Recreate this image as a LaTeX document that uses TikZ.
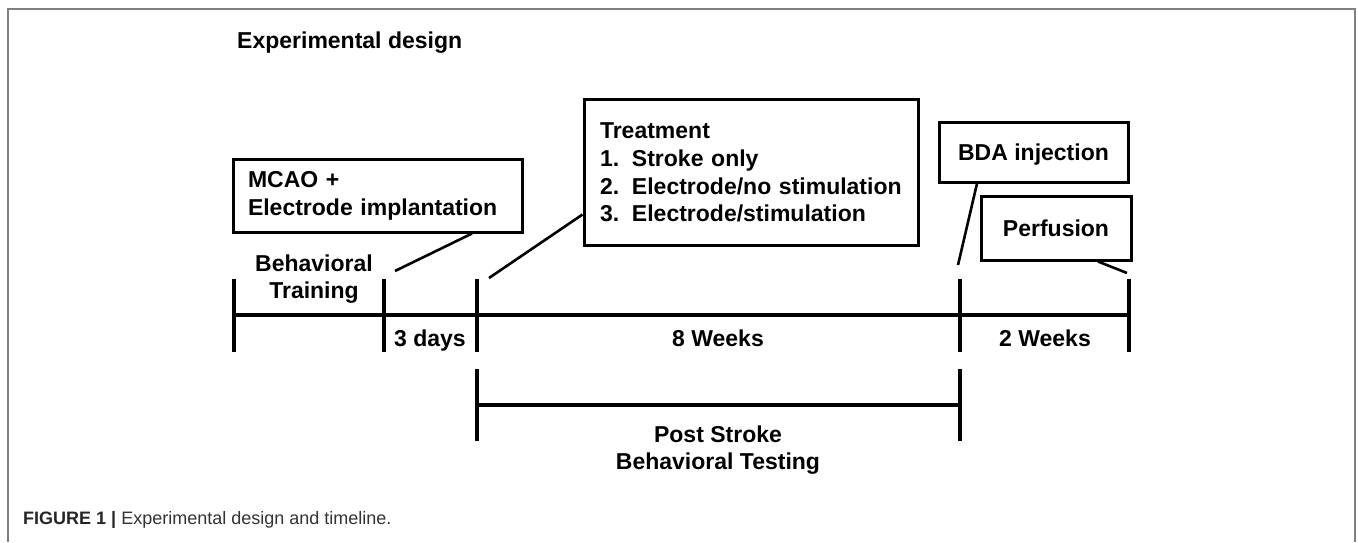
\documentclass[tikz,border=0pt]{standalone}
\usepackage{fontspec}
\setmainfont{Liberation Sans}
\usetikzlibrary{calc}
\definecolor{framegray}{HTML}{808080}
\definecolor{capgray}{HTML}{333333}
\tikzset{
  boxnode/.style={draw, line width=3pt, inner ysep=0pt, font=\bfseries\fontsize{23}{27.7}\selectfont},
  lbl/.style={inner sep=0pt, align=center, font=\bfseries\fontsize{23}{27.7}\selectfont},
  capline/.style={text height=16.5pt, text depth=0pt},
  conn/.style={line width=2.6pt},
  tl/.style={line width=4pt},
}
\begin{document}
\begin{tikzpicture}[x=1pt,y=-1pt]
\useasboundingbox (0,0) rectangle (1358,542);
% frame
\draw[framegray, line width=2pt] (8,542) -- (8,9) -- (1355,9) -- (1355,542);
% title
\node[lbl, capline, anchor=west] (title) at (237,40) {Experimental design};
% timeline
\coordinate (t0) at (234,315);
\coordinate (t1) at (384,315);
\coordinate (t2) at (477,315);
\coordinate (t3) at (960,315);
\coordinate (t4) at (1129,315);
\draw[tl] (t0) -- (t4);
\foreach \p in {t0,t1,t2,t3,t4}{
  \draw[tl] ($(\p)+(0,-36)$) -- ($(\p)+(0,37)$);
}
\node[lbl] (train) at (314,279) {Behavioral\\Training};
\node[lbl, capline] (days) at (430,338) {3 days};
\node[lbl, capline] (eight) at (718,338) {8 Weeks};
\node[lbl, capline] (two) at (1045,338) {2 Weeks};
% post stroke bracket
\coordinate (b0) at (477,405);
\coordinate (b1) at (960,405);
\draw[tl] (b0) -- (b1);
\draw[tl] ($(b0)+(0,-36)$) -- ($(b0)+(0,36)$);
\draw[tl] ($(b1)+(0,-36)$) -- ($(b1)+(0,36)$);
\node[lbl] (post) at (718,450) {Post Stroke\\Behavioral Testing};
% boxes
\node[boxnode, align=left, inner xsep=15pt, text width=259pt, minimum height=73pt] (mcao) at (377.5,195.5) {MCAO +\\Electrode implantation};
\node[boxnode, align=left, inner xsep=16pt, text width=302pt, minimum height=146pt] (treat) at (751,172.5)
  {Treatment\\\makebox[32pt][l]{1.}Stroke only\\\makebox[32pt][l]{2.}Electrode/no stimulation\\\makebox[32pt][l]{3.}Electrode/stimulation};
\node[boxnode, capline, minimum width=189pt, minimum height=60pt] (bda) at (1033.5,152) {BDA injection};
\node[boxnode, capline, minimum width=150pt, minimum height=64pt] (perf) at (1056,228) {Perfusion};
% connectors
\coordinate (cm) at (395,271);
\coordinate (ct) at (489,278);
\coordinate (cb) at (958,265);
\coordinate (cp) at (1127,273);
\draw[conn] ([xshift=94.5pt]mcao.south) -- (cm);
\draw[conn] ([yshift=-42pt]treat.west) -- (ct);
\draw[conn] ([xshift=-56.5pt]bda.south) -- (cb);
\draw[conn] ([xshift=42pt]perf.south) -- (cp);
% caption
\node[inner sep=0pt, anchor=west, text=capgray, font=\fontsize{18}{21}\selectfont] (cap) at (23,520)
  {\textbf{\color{black!85}FIGURE 1 |} Experimental design and timeline.};
\end{tikzpicture}
\end{document}
